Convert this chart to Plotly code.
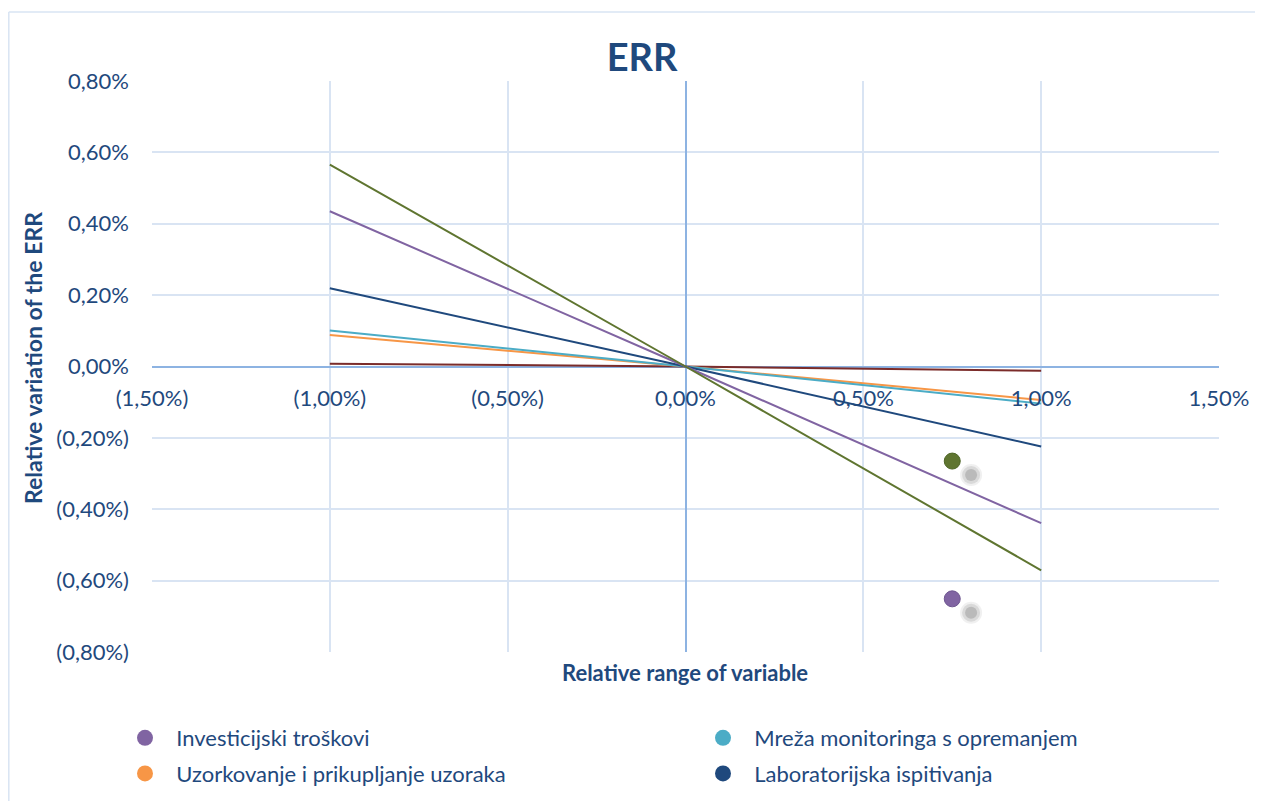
import plotly.graph_objects as go

# x in percent of relative range of variable
x_range_pts = [-1.0, 0.0, 1.0]

series_names = [
    "Investicijski troškovi",
    "Mreža monitoringa s opremanjem",
    "Uzorkovanje i prikupljanje uzoraka",
    "Laboratorijska ispitivanja",
]
# relative variation of ERR (percent) at x = -1%, 0%, +1%
investicijski = [0.435, 0.0, -0.439]
mreza = [0.101, 0.0, -0.104]
uzorkovanje = [0.088, 0.0, -0.094]
laboratorijska = [0.219, 0.0, -0.224]
zelena = [0.566, 0.0, -0.571]
crvena = [0.008, 0.0, -0.012]

# stray markers
dot_x = [0.75, 0.75]
dot_y = [-0.265, -0.651]

x_tickvals = [-1.5, -1.0, -0.5, 0.0, 0.5, 1.0, 1.5]
x_ticktext = ["(1,50%)", "(1,00%)", "(0,50%)", "0,00%", "0,50%", "1,00%", "1,50%"]
y_tickvals = [-0.8, -0.6, -0.4, -0.2, 0.0, 0.2, 0.4, 0.6, 0.8]
y_ticktext = ["(0,80%)", "(0,60%)", "(0,40%)", "(0,20%)", "0,00%", "0,20%", "0,40%", "0,60%", "0,80%"]

C_PURPLE = "#8064A2"
C_CYAN = "#4BACC6"
C_ORANGE = "#F79646"
C_NAVY = "#1F497D"
C_GREEN = "#5F7530"
C_RED = "#7B2C2A"
TXT = "#1F497D"
GRID = "#D9E4F3"
AXIS0 = "#8DB3E2"
FONT = "Lato"

W, H = 1263, 801
L, T = 144, 73
PW, PH = 1067, 571
R = W - L - PW
B = H - T - PH


def px(xs):
    return (xs - L) / PW


def py(ys):
    return (T + PH - ys) / PH


fig = go.Figure()

lines = [
    (crvena, C_RED),
    (uzorkovanje, C_ORANGE),
    (mreza, C_CYAN),
    (laboratorijska, C_NAVY),
    (investicijski, C_PURPLE),
    (zelena, C_GREEN),
]
for vals, col in lines:
    fig.add_trace(go.Scatter(x=x_range_pts, y=vals, mode="lines",
                             line=dict(color=col, width=2), showlegend=False,
                             hoverinfo="skip"))

# shadows + dots
sx = [v + 0.053 for v in dot_x]
sy = [v - 0.039 for v in dot_y]
for sz, colr in [(22, "rgba(170,170,170,0.18)"), (18, "rgba(165,165,165,0.3)"), (12, "rgba(160,160,160,0.55)")]:
    fig.add_trace(go.Scatter(x=sx, y=sy, mode="markers",
                             marker=dict(color=colr, size=sz, line=dict(width=0)),
                             showlegend=False, hoverinfo="skip"))
fig.add_trace(go.Scatter(x=dot_x, y=dot_y, mode="markers",
                         marker=dict(color=[C_GREEN, C_PURPLE], size=16,
                                     line=dict(color=["#4E6626", "#6E5690"], width=1)),
                         showlegend=False, hoverinfo="skip"))

# legend entries
NB = "\u00a0\u00a0"
leg = [
    (series_names[0], C_PURPLE, "legend", "g1"),
    (series_names[2], C_ORANGE, "legend", "g2"),
    (series_names[1], C_CYAN, "legend2", "g3"),
    (series_names[3], C_NAVY, "legend2", "g4"),
]
for name, col, lg, grp in leg:
    fig.add_trace(go.Scatter(x=[None], y=[None], mode="markers", name=NB + name,
                             marker=dict(color=col, size=16), legend=lg, legendgroup=grp))

legend_style = dict(orientation="v", font=dict(family=FONT, size=22, color=TXT),
                    yanchor="middle", xanchor="left", bgcolor="rgba(0,0,0,0)",
                    itemsizing="trace", tracegroupgap=4)

fig.update_layout(
    width=W, height=H,
    margin=dict(l=L, r=R, t=T, b=B),
    paper_bgcolor="white", plot_bgcolor="white",
    title=dict(text="<b>ERR</b>", x=px(634), xref="paper", xanchor="center",
               y=1 - 50 / H, yanchor="middle",
               font=dict(family=FONT, size=38, color=TXT)),
    xaxis=dict(range=[-1.5, 1.5], tickvals=x_tickvals, ticktext=x_ticktext,
               showgrid=True, gridcolor=GRID, gridwidth=2,
               zeroline=True, zerolinecolor=AXIS0, zerolinewidth=2,
               showline=False, anchor="free", position=0.5,
               ticks="", ticklabelstandoff=16,
               tickfont=dict(family=FONT, size=22, color=TXT)),
    yaxis=dict(range=[-0.8, 0.8], tickvals=y_tickvals, ticktext=y_ticktext,
               showgrid=True, gridcolor=GRID, gridwidth=2,
               zeroline=True, zerolinecolor=AXIS0, zerolinewidth=2,
               showline=False, ticks="", ticklabelstandoff=22,
               tickfont=dict(family=FONT, size=22, color=TXT)),
    legend=dict(x=px(117), y=py(748), **legend_style),
    legend2=dict(x=px(695), y=py(748), **legend_style),
    annotations=[
        dict(text="<b>Relative range of variable</b>", xref="paper", yref="paper",
             x=px(677), y=py(665), xanchor="center", yanchor="middle",
             showarrow=False, font=dict(family=FONT, size=22, color=TXT)),
        dict(text="<b>Relative variation of the ERR</b>", xref="paper", yref="paper",
             x=px(25), y=py(350), xanchor="center", yanchor="middle",
             textangle=-90, showarrow=False, font=dict(family=FONT, size=23, color=TXT)),
    ],
    shapes=[
        dict(type="line", xref="paper", yref="paper",
             x0=px(0.8), x1=px(W + 5), y0=py(4), y1=py(4),
             line=dict(color="#D9E4F3", width=1.5), layer="below"),
        dict(type="line", xref="paper", yref="paper",
             x0=px(0.8), x1=px(0.8), y0=py(4), y1=py(H + 5),
             line=dict(color="#D9E4F3", width=1.5), layer="below"),
    ],
)

fig.write_html("out.html")
